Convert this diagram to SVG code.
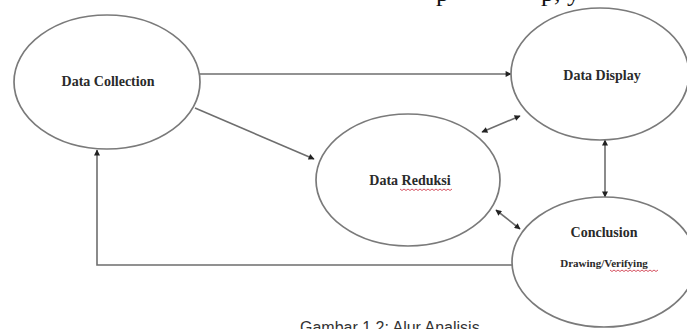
<svg xmlns="http://www.w3.org/2000/svg" width="687" height="329" viewBox="0 0 687 329">
<style>
.node ellipse{fill:#fff;stroke:#7a7a7a;stroke-width:1.7}
.lbl{font-family:"Liberation Serif","Times New Roman",serif;font-weight:bold;fill:#2a2a2a;text-anchor:middle}
.conn{fill:none;stroke:#6e6e6e;stroke-width:1.6}
.squig{fill:none;stroke:#d04050;stroke-width:0.9}
.frag{font-family:"Liberation Serif","Times New Roman",serif;font-size:26px;fill:#111}
.cap{font-family:"Liberation Sans",Arial,sans-serif;font-size:16px;fill:#333}
</style>
<defs>
<marker id="ah" viewBox="0 0 10 10" refX="9" refY="5" markerWidth="7" markerHeight="6" markerUnits="userSpaceOnUse" orient="auto-start-reverse">
<path d="M0,0 L10,5 L0,10 z" fill="#222"/>
</marker>
</defs>
<rect width="687" height="329" fill="#fff"/>
<text class="frag" x="436" y="1">p</text>
<text class="frag" x="541" y="1">p, y</text>
<g id="connectors">
<line class="conn" x1="200" y1="74" x2="511" y2="74" marker-end="url(#ah)"/>
<line class="conn" x1="195" y1="108" x2="314" y2="159" marker-end="url(#ah)"/>
<line class="conn" x1="482" y1="132" x2="520" y2="116" marker-start="url(#ah)" marker-end="url(#ah)"/>
<line class="conn" x1="605" y1="140" x2="605" y2="197" marker-start="url(#ah)" marker-end="url(#ah)"/>
<line class="conn" x1="496" y1="210" x2="520" y2="229" marker-start="url(#ah)" marker-end="url(#ah)"/>
<polyline class="conn" points="512,265 97,265 97,150" marker-end="url(#ah)"/>
</g>
<g id="data-collection" class="node">
<ellipse cx="107" cy="82" rx="93" ry="67"/>
<text class="lbl" x="108" y="86" font-size="14">Data Collection</text>
</g>
<g id="data-display" class="node">
<ellipse cx="600" cy="74" rx="89" ry="66"/>
<text class="lbl" x="602" y="80" font-size="14">Data Display</text>
</g>
<g id="data-reduksi" class="node">
<ellipse cx="408" cy="180" rx="92" ry="66"/>
<text class="lbl" x="410" y="185" font-size="14">Data Reduksi</text>
<path class="squig" d="M400,189 l2,1.5 l2,-1.5 l2,1.5 l2,-1.5 l2,1.5 l2,-1.5 l2,1.5 l2,-1.5 l2,1.5 l2,-1.5 l2,1.5 l2,-1.5 l2,1.5 l2,-1.5 l2,1.5 l2,-1.5 l2,1.5 l2,-1.5 l2,1.5 l2,-1.5 l2,1.5 l2,-1.5 l2,1.5 l2,-1.5 l2,1.5 l2,-1.5"/>
</g>
<g id="conclusion" class="node">
<ellipse cx="604" cy="262" rx="92" ry="65"/>
<text class="lbl" x="604" y="237" font-size="14">Conclusion</text>
<text class="lbl" x="604" y="267" font-size="11">Drawing/Verifying</text>
<path class="squig" d="M610,270 l2,1.5 l2,-1.5 l2,1.5 l2,-1.5 l2,1.5 l2,-1.5 l2,1.5 l2,-1.5 l2,1.5 l2,-1.5 l2,1.5 l2,-1.5 l2,1.5 l2,-1.5 l2,1.5 l2,-1.5 l2,1.5 l2,-1.5 l2,1.5 l2,-1.5 l2,1.5 l2,-1.5 l2,1.5 l2,-1.5"/>
</g>
<text class="cap" x="300" y="333">Gambar 1.2: Alur Analisis</text>
</svg>
